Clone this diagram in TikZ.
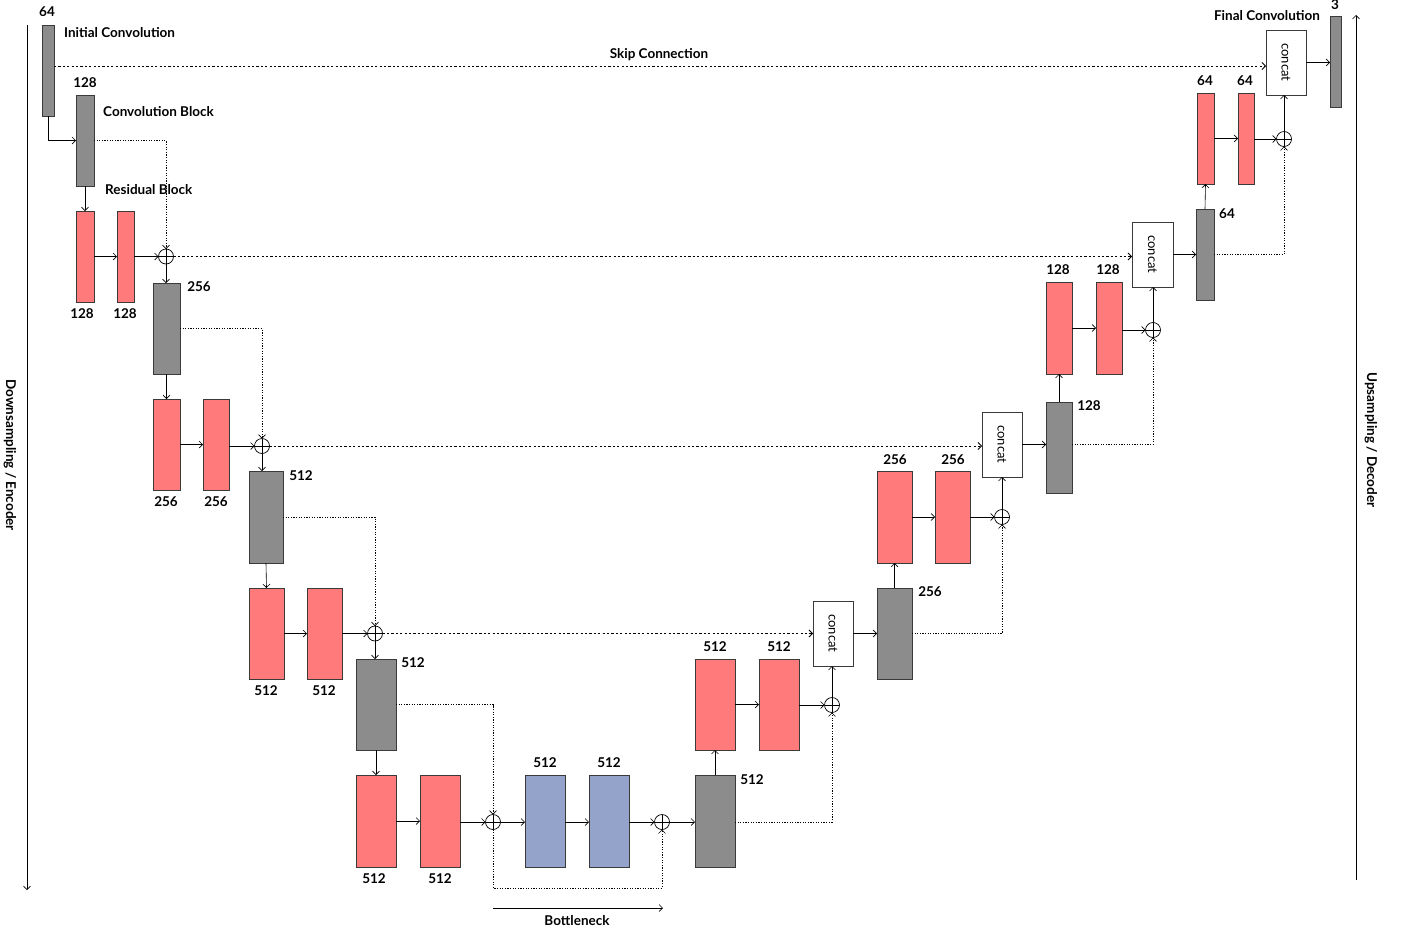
\documentclass[tikz,border=0pt]{standalone}
\usepackage{fontspec}
\setmainfont{Lato}
\usetikzlibrary{arrows.meta}
\definecolor{gfill}{HTML}{8C8C8C}
\definecolor{rfill}{HTML}{FF7A7A}
\definecolor{bfill}{HTML}{93A3C9}
\definecolor{edge}{HTML}{3A3A3A}
\newcommand{\catlabel}{\rotatebox{-90}{concat}}
\begin{document}
\begin{tikzpicture}[x=1pt,y=-1pt,
  blk/.style={draw=edge,line width=0.8pt,inner sep=0pt,outer sep=0pt,minimum height=91pt},
  gray/.style={blk,fill=gfill},
  red/.style={blk,fill=rfill},
  blue/.style={blk,fill=bfill},
  cat/.style={draw=edge,line width=0.8pt,fill=white,inner sep=0pt,outer sep=0pt,minimum width=40pt,minimum height=65pt,font=\fontsize{13}{15}\selectfont},
  oplus/.style={circle,draw=black,line width=0.7pt,minimum size=15pt,inner sep=0pt,outer sep=0pt,
    path picture={\draw[line width=0.7pt] (path picture bounding box.north) -- (path picture bounding box.south)
      (path picture bounding box.west) -- (path picture bounding box.east);}},
  arr/.style={draw=black,line width=0.6pt,-{Straight Barb[length=3.5pt,width=7pt]}},
  skipl/.style={draw=black,line width=0.8pt,dash pattern=on 2.2pt off 2.2pt,-{Straight Barb[length=3.5pt,width=7pt]}},
  resl/.style={draw=black,line width=0.6pt,dash pattern=on 1.2pt off 1.4pt,-{Straight Barb[length=3.5pt,width=7pt]}},
  lab/.style={font=\fontsize{13.5}{15}\selectfont\bfseries,inner sep=0pt},
  side/.style={font=\fontsize{13.5}{15}\selectfont\bfseries,inner sep=0pt,rotate=-90}
]
\useasboundingbox (0,0) rectangle (1403,932);

% ---------------- encoder ----------------
\node[gray,minimum width=12pt] (ic) at (48,70.5) {};
\node[gray,minimum width=18pt] (cb) at (85,140.5) {};
\node[red,minimum width=18pt] (r1a) at (85,256.5) {};
\node[red,minimum width=17pt] (r1b) at (125.5,256.5) {};
\node[oplus] (p1) at (166,256.5) {};
\node[gray,minimum width=27pt] (g2) at (166.5,328.5) {};
\node[red,minimum width=27pt] (r2a) at (166.5,444.5) {};
\node[red,minimum width=26pt] (r2b) at (216,444.5) {};
\node[oplus] (p2) at (262,446) {};
\node[gray,minimum width=34pt,minimum height=92pt] (g3) at (266,517) {};
\node[red,minimum width=35pt] (r3a) at (266.5,633.5) {};
\node[red,minimum width=35pt] (r3b) at (324.5,633.5) {};
\node[oplus] (p3) at (375,633.5) {};
\node[gray,minimum width=40pt] (g4) at (376,704.5) {};
\node[red,minimum width=40pt,minimum height=92pt] (r4a) at (376,821) {};
\node[red,minimum width=40pt,minimum height=92pt] (r4b) at (440,821) {};
\node[oplus] (p4) at (493,822) {};
% ---------------- bottleneck ----------------
\node[blue,minimum width=40pt,minimum height=92pt] (b1) at (545,821) {};
\node[blue,minimum width=40pt,minimum height=92pt] (b2) at (609,821) {};
\node[oplus] (p5) at (662,822) {};
% ---------------- decoder ----------------
\node[gray,minimum width=40pt,minimum height=92pt] (g5) at (715,821) {};
\node[red,minimum width=40pt] (r5a) at (715,704.5) {};
\node[red,minimum width=40pt] (r5b) at (779,704.5) {};
\node[oplus] (p6) at (832,705) {};
\node[cat] (c1) at (833,633.5) {\catlabel};
\node[gray,minimum width=35pt] (g6) at (894.5,633.5) {};
\node[red,minimum width=35pt,minimum height=92pt] (r6a) at (894.5,517) {};
\node[red,minimum width=35pt,minimum height=92pt] (r6b) at (952.5,517) {};
\node[oplus] (p7) at (1002,517) {};
\node[cat] (c2) at (1002,444.5) {\catlabel};
\node[gray,minimum width=26pt] (g7) at (1059,447.5) {};
\node[red,minimum width=26pt,minimum height=92pt] (r7a) at (1059,328) {};
\node[red,minimum width=26pt,minimum height=92pt] (r7b) at (1109,328) {};
\node[oplus] (p8) at (1153,330) {};
\node[cat,minimum width=41pt] (c3) at (1152.5,254.5) {\catlabel};
\node[gray,minimum width=18pt] (g8) at (1205,254.5) {};
\node[red,minimum width=17pt] (r8a) at (1205.5,138.5) {};
\node[red,minimum width=16pt] (r8b) at (1246,138.5) {};
\node[oplus] (p9) at (1284,139) {};
\node[cat] (c4) at (1286,62.5) {\catlabel};
\node[gray,minimum width=11pt] (fc) at (1335.5,61.5) {};

% ---------------- labels ----------------
\node[lab] (l1) at (47,12) {64};
\node[lab,anchor=west] (l2) at (64,33) {Initial Convolution};
\node[lab] (l3) at (85,83) {128};
\node[lab,anchor=west] (l4) at (103,112) {Convolution Block};
\node[lab,anchor=west] (l5) at (105,190) {Residual Block};
\node[lab] at (82,314) {128};
\node[lab] at (125,314) {128};
\node[lab] at (199,287) {256};
\node[lab] at (166,502) {256};
\node[lab] at (216,502) {256};
\node[lab] at (301,476) {512};
\node[lab] at (266,691) {512};
\node[lab] at (324,691) {512};
\node[lab] at (413,663) {512};
\node[lab] at (374,879) {512};
\node[lab] at (440,879) {512};
\node[lab] at (545,763) {512};
\node[lab] at (609,763) {512};
\node[lab] at (752,780) {512};
\node[lab] at (715,647) {512};
\node[lab] at (779,647) {512};
\node[lab] at (930,592) {256};
\node[lab] at (895,460) {256};
\node[lab] at (953,460) {256};
\node[lab] at (1089,406) {128};
\node[lab] at (1058,270) {128};
\node[lab] at (1108,270) {128};
\node[lab] at (1227,214) {64};
\node[lab] at (1205,81) {64};
\node[lab] at (1245,81) {64};
\node[lab] at (1335,5) {3};
\node[lab] at (1267,16) {Final Convolution};
\node[lab] at (659,55) {Skip Connection};
\node[lab] at (577,921) {Bottleneck};
\node[side] at (10,455) {Downsampling / Encoder};
\node[side] at (1371,440) {Upsampling / Decoder};

% ---------------- side arrows ----------------
\coordinate (ea) at (27,25);
\coordinate (eb) at (27,890);
\coordinate (da) at (1356,880);
\coordinate (db) at (1356,15);
\coordinate (ba) at (493,908);
\coordinate (bb) at (663,908);
\draw[arr] (ea) -- (eb);
\draw[arr] (da) -- (db);
\draw[arr] (ba) -- (bb);

% ---------------- encoder connectors ----------------
\coordinate (sk) at (0,66);
\draw[arr] (ic.south) |- (cb.west);
\draw[skipl] (ic.east |- sk) -- (c4.west |- sk);
\draw[resl] (cb.east) -| (p1.north);
\draw[arr] (cb.south) -- (r1a.north);
\draw[arr] (r1a.east) -- (r1b.west);
\draw[arr] (r1b.east) -- (p1.west);
\draw[arr] (p1.south) -- (p1.south |- g2.north);
\draw[skipl] (p1.east) -- (p1.east -| c3.west);

\draw[resl] (g2.east) -| (p2.north);
\draw[arr] (g2.south) -- (r2a.north);
\draw[arr] (r2a.east) -- (r2b.west);
\draw[arr] (r2b.east |- p2.west) -- (p2.west);
\draw[arr] (p2.south) -- (p2.south |- g3.north);
\draw[skipl] (p2.east) -- (p2.east -| c2.west);

\draw[resl] (g3.east) -| (p3.north);
\draw[arr] (g3.south) -- (r3a.north);
\draw[arr] (r3a.east) -- (r3b.west);
\draw[arr] (r3b.east) -- (p3.west);
\draw[arr] (p3.south) -- (p3.south |- g4.north);
\draw[skipl] (p3.east) -- (p3.east -| c1.west);

\draw[resl] (g4.east) -| (p4.north);
\draw[arr] (g4.south) -- (r4a.north);
\draw[arr] (r4a.east) -- (r4b.west);
\draw[arr] (r4b.east |- p4.west) -- (p4.west);

% ---------------- bottleneck connectors ----------------
\coordinate (bl) at (0,888);
\draw[arr] (p4.east) -- (p4.east -| b1.west);
\draw[arr] (b1.east |- p4.east) -- (b2.west |- p4.east);
\draw[arr] (b2.east |- p5.west) -- (p5.west);
\draw[resl] (p4.south) -- (p4.south |- bl) -| (p5.south);
\draw[arr] (p5.east) -- (p5.east -| g5.west);

% ---------------- decoder connectors ----------------
\draw[arr] (g5.north) -- (r5a.south);
\draw[arr] (r5a.east) -- (r5b.west);
\draw[arr] (r5b.east |- p6.west) -- (p6.west);
\draw[resl] (g5.east |- p5.east) -| (p6.south);
\draw[arr] (p6.north) -- (p6.north |- c1.south);
\draw[arr] (c1.east) -- (g6.west);

\draw[arr] (g6.north) -- (r6a.south);
\draw[arr] (r6a.east) -- (r6b.west);
\draw[arr] (r6b.east) -- (p7.west);
\draw[resl] (g6.east) -| (p7.south);
\draw[arr] (p7.north) -- (p7.north |- c2.south);
\draw[arr] (c2.east) -- (c2.east -| g7.west);

\draw[arr] (g7.north) -- (r7a.south);
\draw[arr] (r7a.east) -- (r7b.west);
\draw[arr] (r7b.east |- p8.west) -- (p8.west);
\draw[resl] (g7.east |- c2.east) -| (p8.south);
\draw[arr] (p8.north) -- (p8.north |- c3.south);
\draw[arr] (c3.east) -- (g8.west);

\draw[arr] (g8.north) -- (r8a.south);
\draw[arr] (r8a.east) -- (r8b.west);
\draw[arr] (r8b.east |- p9.west) -- (p9.west);
\draw[resl] (g8.east) -| (p9.south);
\draw[arr] (p9.north) -- (p9.north |- c4.south);
\draw[arr] (c4.east) -- (c4.east -| fc.west);
\end{tikzpicture}
\end{document}
